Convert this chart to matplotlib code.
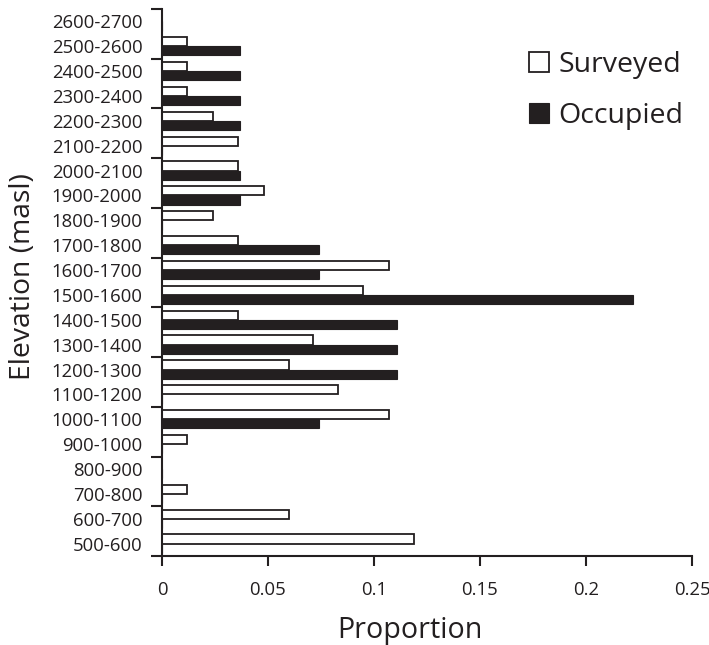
import matplotlib
matplotlib.use("Agg")
import matplotlib.pyplot as plt
import numpy as np
from matplotlib.ticker import FixedLocator, NullFormatter

plt.rcParams['font.family'] = ['Open Sans', 'DejaVu Sans']

categories = ["500-600", "600-700", "700-800", "800-900", "900-1000", "1000-1100",
              "1100-1200", "1200-1300", "1300-1400", "1400-1500", "1500-1600",
              "1600-1700", "1700-1800", "1800-1900", "1900-2000", "2000-2100",
              "2100-2200", "2200-2300", "2300-2400", "2400-2500", "2500-2600",
              "2600-2700"]
surveyed = [0.119, 0.060, 0.012, 0.0, 0.012, 0.107, 0.083, 0.060, 0.071, 0.036,
            0.095, 0.107, 0.036, 0.024, 0.048, 0.036, 0.036, 0.024, 0.012, 0.012,
            0.012, 0.0]
occupied = [0.0, 0.0, 0.0, 0.0, 0.0, 0.074, 0.0, 0.111, 0.111, 0.111,
            0.222, 0.074, 0.074, 0.0, 0.037, 0.037, 0.0, 0.037, 0.037, 0.037,
            0.037, 0.0]
xticks = [0, 0.05, 0.1, 0.15, 0.2, 0.25]
xticklabels = ["0", "0.05", "0.1", "0.15", "0.2", "0.25"]

ink = '#231f20'
fig = plt.figure(figsize=(7.09, 6.45), dpi=100)
ax = fig.add_axes([162/709, 1-556/645, 530/709, 547/645])

y = np.arange(len(categories))
h = 0.37
ax.barh(y + h/2, surveyed, height=h, color='white', edgecolor=ink,
        linewidth=1.3, label='Surveyed')
ax.barh(y - h/2, occupied, height=h, color=ink, edgecolor=ink,
        linewidth=0.8, label='Occupied')

ax.set_xlim(0, 0.25)
ax.set_ylim(-0.5, len(categories) - 0.5)
for s in ['top', 'right']:
    ax.spines[s].set_visible(False)
for s in ['left', 'bottom']:
    ax.spines[s].set_linewidth(1.5)
    ax.spines[s].set_color(ink)

ax.set_xticks(xticks)
ax.set_xticklabels(xticklabels, fontsize=13.3, color=ink)
ax.tick_params(axis='x', length=7, width=1.5, color=ink, pad=11)

ax.yaxis.set_major_locator(FixedLocator(np.arange(-0.5, len(categories), 2)))
ax.yaxis.set_major_formatter(NullFormatter())
ax.set_yticks(y, minor=True)
ax.set_yticklabels(categories, minor=True, fontsize=13.3, color=ink)
ax.tick_params(axis='y', which='major', length=8, width=1.5, color=ink)
ax.tick_params(axis='y', which='minor', length=0, pad=14)

ax.set_xlabel('Proportion', fontsize=20.6, color=ink)
ax.xaxis.set_label_coords(0.468, -0.109)
ax.set_ylabel('Elevation (masl)', fontsize=20.4, color=ink)
ax.yaxis.set_label_coords(-0.2356, 0.51)

leg = ax.legend(loc='upper left', bbox_to_anchor=(515/709, 1-37/645),
                bbox_transform=fig.transFigure, frameon=False, fontsize=20.5,
                borderpad=0, handlelength=0.7, handleheight=0.7,
                handletextpad=0.32, labelspacing=0.81)
for t in leg.get_texts():
    t.set_color(ink)

fig.savefig('out.png', dpi=100)
